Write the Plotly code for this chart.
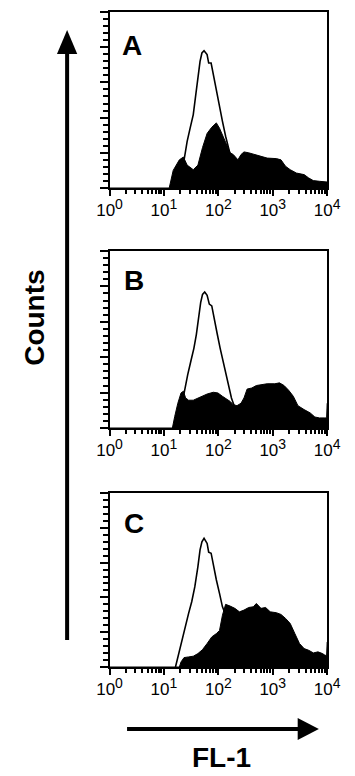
import plotly.graph_objects as go

# page body has an 8px default margin: work in window pixels and map into the figure
OFF = 8
W, H = 355 - OFF, 776 - OFF

# ---------------- data (FL-1 intensity, counts as % of panel height) -------------
a_fill_x = [1, 12.5, 14.8, 19.2, 22.8, 26.7, 34.6, 42.1, 51.2, 62.1, 75.5, 91.8, 105, 127, 145,
            165, 188, 229, 261, 296, 361, 468, 608, 789, 1164, 1416, 1722, 2094, 2716, 3767,
            4581, 5559, 7228, 9376, 10000]
a_fill_y = [0, 0, 10, 16, 17.6, 13, 10.4, 13, 23, 31, 34.5, 37, 34, 28, 24.6,
            20, 19, 16, 19, 20.5, 20, 19, 18, 17, 16.7, 16, 12.3, 10.4, 8.5, 7.6,
            5.7, 4.2, 3.8, 3.4, 3.4]
a_open_x = [14.1, 17.8, 22.9, 24.2, 26.7, 30.3, 34.6, 38.5, 42.1, 46.1, 49.9, 54.6, 62.1, 66.4,
            73.6, 80.7, 91.8, 105, 119, 136, 155, 165, 200, 316, 631, 1585, 3981, 10000]
a_open_y = [0, 6, 14, 19, 26.5, 34, 41.7, 53, 62.5, 72, 76.7, 78, 75.8, 71,
            71, 64.4, 55, 45.5, 37.9, 29.4, 22.7, 19, 12, 7, 3, 1.5, 1, 0.5]

b_fill_x = [1, 14.3, 15.8, 18.0, 20.6, 22.8, 25.0, 28.4, 34.6, 39.4, 48.0, 62.2, 80.7, 98.2,
            119, 145, 165, 188, 220, 261, 296, 338, 411, 500, 608, 789, 1091, 1327, 1614,
            1963, 2388, 2904, 3767, 4887, 5943, 7228, 8790, 9772, 10000]
b_fill_y = [0, 0, 6.6, 14, 19.8, 20.8, 17, 15.7, 15.7, 16.4, 17.9, 19.2, 20.2, 19.8,
            17.9, 16, 15, 13.2, 12.6, 14, 17, 22, 22.6, 24, 24.5, 25, 25, 25.5, 24,
            21.3, 17.9, 12.6, 10.4, 8.5, 6.2, 5.7, 5.7, 5.7, 14]
b_open_x = [15.8, 20, 22.9, 24.6, 27.3, 31.2, 35.5, 39.4, 43.2, 47.3, 51.2, 56.1, 62.2, 68.2,
            75.7, 82.8, 94.4, 108, 122, 140, 159, 174, 193, 224, 316, 631, 1585, 3981, 10000]
b_open_y = [0, 10, 18, 23.6, 30, 37.7, 45, 52.8, 62, 70.8, 75.5, 76.8, 75, 70,
            69, 62, 53.8, 45, 37.7, 30, 22.6, 17, 13, 10, 5, 2.5, 1.5, 1, 0.5]

c_fill_x = [1, 19.2, 20.6, 23.4, 28.4, 34.6, 42.1, 51.2, 62.2, 75.7, 92, 105, 119, 136, 165,
            201, 244, 296, 361, 438, 500, 608, 739, 899, 1164, 1416, 1722, 2094, 2547,
            3097, 3767, 4581, 5572, 6776, 8241, 9141, 9772, 10000]
c_fill_y = [0, 0, 2.9, 5.4, 5.8, 6.2, 7.7, 10, 13.5, 17.3, 19.2, 21, 29.8, 36, 35,
            33.7, 31.7, 32.7, 34.2, 34.6, 36.5, 33.7, 34.2, 31.7, 31.2, 30.2, 27.9, 25, 19.2,
            13.5, 10.6, 9.6, 8.1, 8.7, 7.7, 6.7, 6.7, 14.4]
c_open_x = [16.3, 19.2, 21.9, 25, 28.4, 32.4, 36.9, 42.1, 46.1, 49.9, 54.6, 62.2, 66.4, 73.6,
            80.7, 92, 105, 119, 136, 178, 251, 398, 1000, 3162, 10000]
c_open_y = [0, 9.6, 16.3, 24, 30.8, 37.5, 46, 57.7, 67.3, 72, 74, 71, 66, 65.4,
            58.7, 50, 42.3, 34.6, 30, 18, 10, 5, 2, 1, 0.5]

panel_letters = ["A", "B", "C"]
tick_vals = [1, 10, 100, 1000, 10000]
tick_exps = ["0", "1", "2", "3", "4"]
y_label = "Counts"
x_label = "FL-1"

tick_text = [f"10<sup><span style='font-size:14px'>{e}</span></sup>" for e in tick_exps]

panels = [(a_fill_x, a_fill_y, a_open_x, a_open_y),
          (b_fill_x, b_fill_y, b_open_x, b_open_y),
          (c_fill_x, c_fill_y, c_open_x, c_open_y)]

# panel frames in window pixels (top, bottom)
frames = [(12, 188), (251, 428), (493, 667)]
x_left, x_right = 104, 340
letter_pos = [(115, 45), (117, 280), (118, 523)]

def px(x):
    return (x - OFF) / W

def py(y):
    return 1 - (y - OFF) / H

fig = go.Figure()
FONT = "Liberation Sans, Arial, sans-serif"

for i, (fx, fy, ox, oy) in enumerate(panels):
    xa = "x" if i == 0 else f"x{i+1}"
    ya = "y" if i == 0 else f"y{i+1}"
    fig.add_trace(go.Scatter(x=fx, y=fy, mode="lines", fill="tozeroy",
                             fillcolor="black", line=dict(color="black", width=1),
                             xaxis=xa, yaxis=ya, showlegend=False, hoverinfo="skip"))
    fig.add_trace(go.Scatter(x=ox, y=oy, mode="lines",
                             line=dict(color="black", width=1.6),
                             xaxis=xa, yaxis=ya, showlegend=False, hoverinfo="skip"))
    top, bot = frames[i]
    xkey = "xaxis" if i == 0 else f"xaxis{i+1}"
    ykey = "yaxis" if i == 0 else f"yaxis{i+1}"
    fig.layout[xkey] = dict(
        domain=[px(x_left), px(x_right)], anchor=ya, type="log", range=[0, 4],
        tickmode="array", tickvals=tick_vals, ticktext=tick_text,
        ticks="outside", ticklen=6, tickwidth=2, tickcolor="black",
        minor=dict(ticks="outside", ticklen=4, tickwidth=1.5, tickcolor="black", dtick="D1", showgrid=False),
        showline=True, linecolor="black", linewidth=2, mirror=True,
        showgrid=False, zeroline=False,
        tickfont=dict(family=FONT, size=17, color="black"))
    fig.layout[ykey] = dict(
        domain=[py(bot), py(top)], anchor=xa, range=[0, 100],
        tick0=0, dtick=20, ticks="outside", ticklen=8, tickwidth=1.5, tickcolor="black",
        minor=dict(ticks="outside", ticklen=5, tickwidth=1.5, tickcolor="black", dtick=4, showgrid=False),
        showticklabels=False, showline=True, linecolor="black", linewidth=2, mirror=True,
        showgrid=False, zeroline=False)
    lx, ly = letter_pos[i]
    fig.add_annotation(x=px(lx), y=py(ly), xref="paper", yref="paper", text=f"<b>{panel_letters[i]}</b>",
                       showarrow=False, xanchor="left", yanchor="middle",
                       font=dict(family=FONT, size=28, color="black"))

# axis titles
fig.add_annotation(x=px(23), y=py(318), xref="paper", yref="paper", text=f"<b>{y_label}</b>",
                   showarrow=False, textangle=-90, xanchor="center", yanchor="middle",
                   font=dict(family=FONT, size=28, color="black"))
fig.add_annotation(x=px(225), y=py(757), xref="paper", yref="paper", text=f"<b>{x_label}</b>",
                   showarrow=False, xanchor="center", yanchor="middle",
                   font=dict(family=FONT, size=28, color="black"))

# arrows
shapes = []
shapes.append(dict(type="line", xref="paper", yref="paper", x0=px(58), x1=px(58), y0=py(640), y1=py(50),
                   line=dict(color="black", width=4)))
shapes.append(dict(type="path", xref="paper", yref="paper",
                   path=f"M {px(58)} {py(30)} L {px(47)} {py(54)} L {px(69)} {py(54)} Z",
                   fillcolor="black", line=dict(color="black", width=0)))
shapes.append(dict(type="line", xref="paper", yref="paper", x0=px(123), x1=px(312), y0=py(729), y1=py(729),
                   line=dict(color="black", width=4)))
shapes.append(dict(type="path", xref="paper", yref="paper",
                   path=f"M {px(331)} {py(729)} L {px(308)} {py(718)} L {px(308)} {py(740)} Z",
                   fillcolor="black", line=dict(color="black", width=0)))
fig.update_layout(shapes=shapes)

fig.update_layout(width=W, height=H, margin=dict(l=0, r=0, t=0, b=0),
                  paper_bgcolor="white", plot_bgcolor="white")

fig.write_html("out.html")
